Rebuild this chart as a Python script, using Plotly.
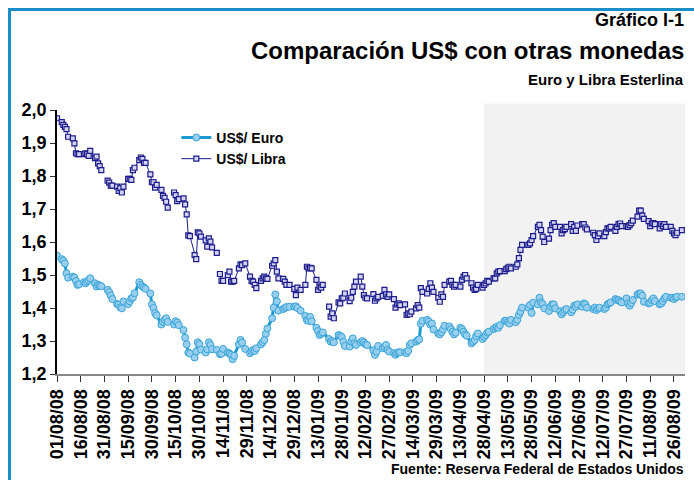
import pandas as pd
import plotly.graph_objects as go

# Daily (business-day) quotes, 01/08/2008 - 31/08/2009; None = US holiday (no quote)
euro = [
    1.559,
    1.548, 1.543, 1.535, 1.505, 1.492,
    1.495, 1.492, 1.482, 1.470, 1.472,
    1.478, 1.475, 1.480, 1.485, 1.490,
    1.475, 1.465, 1.470, 1.468, 1.466,
    None, 1.455, 1.448, 1.438, 1.427,
    1.412, 1.410, 1.402, 1.399, 1.420,
    1.412, 1.420, 1.429, 1.432, 1.445,
    1.478, 1.470, 1.465, 1.462, 1.458,
    1.444, 1.411, 1.400, 1.385, 1.378,
    1.350, 1.358, 1.364, 1.369, 1.358,
    None, 1.350, 1.360, 1.356, 1.348,
    1.333, 1.310, 1.290, 1.265, 1.262,
    1.250, 1.268, 1.296, 1.290, 1.274,
    1.265, 1.275, 1.296, 1.288, 1.275,
    1.273, None, 1.260, 1.262, 1.276,
    1.265, 1.262, 1.258, 1.245, 1.255,
    1.290, 1.303, 1.295, None, 1.276,
    1.263, 1.268, 1.273, 1.270, 1.278,
    1.290, 1.296, 1.303, 1.322, 1.338,
    1.369, 1.401, 1.441, 1.420, 1.392,
    1.397, 1.400, 1.403, None, 1.404,
    1.404, 1.405, 1.400, None, 1.392,
    1.376, 1.363, 1.361, 1.373, 1.360,
    1.340, 1.330, 1.318, 1.322, 1.326,
    None, 1.306, 1.298, 1.300, 1.296,
    1.318, 1.316, 1.312, 1.298, 1.285,
    1.283, 1.298, 1.308, 1.293, 1.288,
    1.296, 1.300, 1.296, 1.290, 1.288,
    None, 1.272, 1.258, 1.268, 1.285,
    1.278, 1.283, 1.288, 1.273, 1.268,
    1.263, 1.258, 1.263, 1.266, 1.266,
    1.266, 1.263, 1.270, 1.288, 1.293,
    1.298, 1.303, 1.305, 1.352, 1.361,
    1.364, 1.359, 1.350, 1.353, 1.335,
    1.323, 1.320, 1.326, 1.335, 1.346,
    1.344, 1.336, 1.328, 1.320, 1.325,
    1.340, 1.336, 1.328, 1.320, 1.316,
    1.293, 1.298, 1.303, 1.315, 1.323,
    1.306, 1.312, 1.318, 1.325, 1.328,
    1.336, 1.340, 1.343, 1.340, 1.348,
    1.361, 1.361, 1.357, 1.353, 1.364,
    1.357, 1.364, 1.379, 1.389, 1.401,
    None, 1.401, 1.409, 1.385, 1.416,
    1.411, 1.431, 1.417, 1.412, 1.399,
    1.391, 1.404, 1.411, 1.411, 1.399,
    1.390, 1.381, 1.387, 1.394, 1.397,
    1.387, 1.395, 1.407, 1.404, 1.411,
    1.404, 1.414, 1.411, 1.401, None,
    1.397, 1.401, 1.394, 1.398, 1.401,
    1.397, 1.401, 1.411, 1.414, 1.417,
    1.427, 1.424, 1.424, 1.420, 1.417,
    1.429, 1.414, 1.407, 1.415, 1.424,
    1.441, 1.444, 1.444, 1.437, 1.419,
    1.414, 1.416, 1.424, 1.429, 1.421,
    1.411, 1.414, 1.421, 1.429, 1.434,
    1.431, 1.431, 1.427, 1.432, 1.434,
    1.434,
]

libra = [
    1.975,
    1.963, 1.955, 1.949, 1.942, 1.919,
    1.914, 1.899, 1.869, 1.866, 1.866,
    1.866, 1.869, 1.866, 1.861, 1.876,
    1.854, 1.859, 1.838, 1.830, 1.818,
    None, 1.786, 1.780, 1.771, 1.771,
    1.768, 1.755, 1.763, 1.750, 1.768,
    1.791, 1.791, 1.788, 1.818, 1.825,
    1.848, 1.856, 1.852, 1.840, 1.840,
    1.805, 1.781, 1.781, 1.765, 1.773,
    1.758, 1.740, 1.734, 1.722, 1.704,
    None, 1.750, 1.742, 1.724, 1.730,
    1.732, 1.714, 1.684, 1.620, 1.618,
    1.560, 1.548, 1.629, 1.626, 1.616,
    1.605, 1.586, 1.611, 1.601, 1.584,
    1.567, None, 1.503, 1.482, 1.482,
    1.500, 1.510, 1.480, 1.480, 1.482,
    1.520, 1.532, 1.530, None, 1.535,
    1.495, 1.482, 1.480, 1.470, 1.460,
    1.482, 1.490, 1.495, 1.490, 1.488,
    1.528, 1.535, 1.545, 1.510, 1.490,
    1.488, 1.480, 1.470, None, 1.470,
    1.458, 1.439, 1.462, None, 1.455,
    1.470, 1.525, 1.520, 1.522, 1.520,
    1.485, 1.455, 1.465, 1.462, 1.470,
    None, 1.404, 1.374, 1.384, 1.369,
    1.417, 1.414, 1.429, 1.431, 1.444,
    1.421, 1.431, 1.449, 1.465, 1.480,
    1.495, 1.465, 1.439, 1.431, 1.429,
    None, 1.442, 1.422, 1.429, 1.434,
    1.437, 1.455, 1.441, 1.434, 1.441,
    1.427, 1.401, 1.411, 1.414, 1.409,
    1.411, 1.379, 1.384, 1.381, 1.389,
    1.399, 1.409, 1.401, 1.460, 1.449,
    1.444, 1.458, 1.475, 1.462, 1.449,
    1.431, 1.419, 1.441, 1.434, 1.470,
    1.480, 1.482, 1.470, 1.465, 1.470,
    1.465, 1.485, 1.495, 1.500, 1.490,
    1.475, 1.462, 1.455, 1.458, 1.470,
    1.462, 1.470, 1.475, 1.482, 1.480,
    1.490, 1.490, 1.505, 1.510, 1.512,
    1.512, 1.518, 1.522, 1.525, 1.520,
    1.525, 1.532, 1.551, 1.576, 1.591,
    None, 1.591, 1.596, 1.606, 1.618,
    1.646, 1.652, 1.636, 1.616, 1.600,
    1.610, 1.636, 1.652, 1.657, 1.646,
    1.646, 1.626, 1.636, 1.639, 1.646,
    1.654, 1.634, 1.646, 1.634, 1.650,
    1.654, 1.654, 1.644, 1.638, None,
    1.628, 1.621, 1.606, 1.618, 1.626,
    1.618, 1.630, 1.641, 1.641, 1.646,
    1.634, 1.646, 1.654, 1.656, 1.648,
    1.648, 1.646, 1.651, 1.657, 1.665,
    1.677, 1.695, 1.695, 1.680, 1.670,
    1.663, 1.648, 1.656, 1.657, 1.654,
    1.641, 1.654, 1.648, 1.654, 1.646,
    1.646, 1.634, 1.626, 1.621, 1.628,
    1.636,
]

dates = pd.bdate_range("2008-08-01", periods=len(euro))

START = "2008-08-01"
AXIS_END = "2009-09-02"
SHADE_START = "2009-04-28"

FONT = "'Liberation Sans', Arial, sans-serif"

fig = go.Figure()

fig.add_trace(go.Scatter(
    x=dates, y=euro, name="US$/ Euro", mode="lines+markers",
    connectgaps=True,
    line=dict(color="#1b9ad2", width=3),
    marker=dict(symbol="circle", size=7, color="#98cfee",
                line=dict(color="#38a4d8", width=1)),
))
fig.add_trace(go.Scatter(
    x=dates, y=libra, name="US$/ Libra", mode="lines+markers",
    connectgaps=False,
    line=dict(color="#1c1c8c", width=1),
    marker=dict(symbol="square", size=5, color="#d4d4f2",
                line=dict(color="#1c1c8c", width=1.2)),
))

# shaded period (from 28/04/09)
fig.add_shape(type="rect", xref="x", yref="paper",
              x0=SHADE_START, x1=AXIS_END, y0=0, y1=1.025,
              fillcolor="#f2f2f2", line=dict(width=0), layer="below")

# outer blue frame
fig.add_shape(type="rect", xref="paper", yref="paper",
              x0=-0.0756, x1=1.2, y0=-0.6, y1=1.3807,
              line=dict(color="#1a8ec6", width=3), fillcolor="rgba(0,0,0,0)")

title_font = dict(family=FONT, color="black", weight="bold")
fig.add_annotation(text="Gráfico I-1", xref="paper", yref="paper",
                   x=1.0016, y=1.341, xanchor="right", yanchor="middle",
                   showarrow=False, font=dict(size=18, **title_font))
fig.add_annotation(text="Comparación US$ con otras monedas", xref="paper", yref="paper",
                   x=1.0016, y=1.227, xanchor="right", yanchor="middle",
                   showarrow=False, font=dict(size=24, **title_font))
fig.add_annotation(text="Euro y Libra Esterlina", xref="paper", yref="paper",
                   x=1.0016, y=1.117, xanchor="right", yanchor="middle",
                   showarrow=False, font=dict(size=15, **title_font))
fig.add_annotation(text="Fuente: Reserva Federal de Estados Unidos", xref="paper", yref="paper",
                   x=1.0016, y=-0.360, xanchor="right", yanchor="middle",
                   showarrow=False, font=dict(size=14, **title_font))

fig.update_layout(
    width=694, height=480,
    margin=dict(l=57, r=9, t=110, b=106),
    paper_bgcolor="white", plot_bgcolor="white",
    separators=",.",
    showlegend=True,
    legend=dict(x=0.19, y=0.955, xanchor="left", yanchor="top",
                bgcolor="rgba(0,0,0,0)", itemwidth=30, tracegroupgap=0,
                font=dict(family=FONT, size=14, color="black", weight="bold")),
    font=dict(family=FONT, color="black"),
)

fig.update_xaxes(
    type="date", range=[START, AXIS_END],
    tick0=START, dtick=15 * 86400000, tickformat="%d/%m/%y",
    tickangle=-90, ticks="outside", ticklen=6, tickcolor="#333",
    showline=True, linecolor="#888888", linewidth=2,
    showgrid=False, zeroline=False,
    tickfont=dict(family=FONT, size=18, color="black", weight="bold"),
)
fig.update_yaxes(
    range=[1.2, 2.0], dtick=0.1, tickformat=".1f",
    ticks="outside", ticklen=5, tickcolor="#333",
    showline=True, linecolor="black", linewidth=1.5,
    showgrid=False, zeroline=False,
    tickfont=dict(family=FONT, size=18, color="black", weight="bold"),
)

fig.write_html("out.html", config={"displayModeBar": False},
               post_script="document.body.style.margin='0';")
